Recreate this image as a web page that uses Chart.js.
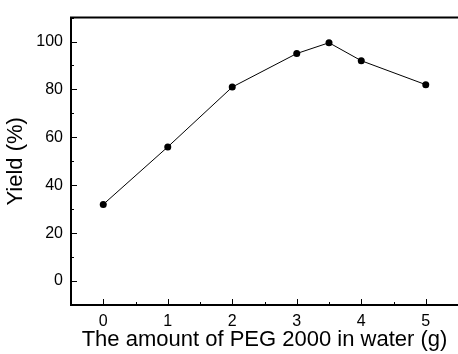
<!DOCTYPE html>
<html>
<head>
<meta charset="utf-8">
<script src="https://cdn.jsdelivr.net/npm/chart.js@4/dist/chart.umd.min.js"></script>
<style>
  html, body { margin: 0; padding: 0; background: #fff; overflow: hidden; }
  #wrap { width: 462px; height: 354px; }
</style>
</head>
<body>
<div id="wrap"><canvas id="yieldChart"></canvas></div>
<script>
// Data
const pegAmount = [0, 1, 2, 3, 3.5, 4, 5];
const yieldPct = [32, 56, 81, 95, 99.5, 92, 82];
const xTicks = [0, 1, 2, 3, 4, 5];
const yTicks = [0, 20, 40, 60, 80, 100];

const points = pegAmount.map((x, i) => ({ x: x, y: yieldPct[i] }));

// inward ticks + top frame line, like the Origin style plot
const framePlugin = {
    id: 'frame',
    afterDatasetsDraw(chart) {
        const { ctx, chartArea, scales } = chart;
        ctx.save();
        ctx.strokeStyle = '#000';
        ctx.lineWidth = 2;
        ctx.beginPath();
        ctx.moveTo(chartArea.left - 1, chartArea.top);
        ctx.lineTo(chartArea.right + 2, chartArea.top);
        ctx.stroke();

        ctx.lineWidth = 1;
        ctx.beginPath();
        for (let v = -0.5; v <= 5.5; v += 0.5) {
            const px = Math.round(scales.x.getPixelForValue(v)) + 0.5;
            const len = Number.isInteger(v) ? 6 : 3;
            ctx.moveTo(px, chartArea.bottom);
            ctx.lineTo(px, chartArea.bottom - len);
        }
        for (let v = -10; v <= 110; v += 10) {
            const py = Math.round(scales.y.getPixelForValue(v)) + 0.5;
            const len = v % 20 === 0 ? 6 : 3;
            ctx.moveTo(chartArea.left, py);
            ctx.lineTo(chartArea.left + len, py);
        }
        ctx.stroke();
        ctx.restore();
    }
};

const ctx = document.getElementById('yieldChart').getContext('2d');
new Chart(ctx, {
    type: 'scatter',
    data: {
        datasets: [{
            data: points,
            showLine: true,
            borderColor: '#000',
            borderWidth: 1,
            backgroundColor: '#000',
            pointRadius: 3.5,
            pointBorderWidth: 0
        }]
    },
    options: {
        responsive: true,
        maintainAspectRatio: false,
        animation: false,
        layout: { padding: { top: 14, right: 2, left: 0, bottom: 0 } },
        plugins: {
            legend: { display: false },
            tooltip: { enabled: false }
        },
        scales: {
            x: {
                type: 'linear',
                min: -0.5,
                max: 5.5,
                afterBuildTicks: (s) => { s.ticks = xTicks.map(v => ({ value: v })); },
                afterFit: (s) => { s.height = 49; },
                grid: { display: false, drawTicks: false },
                border: { display: true, color: '#000', width: 2 },
                ticks: { color: '#000', padding: 7, font: { family: 'Arial, "Liberation Sans"', size: 16 } },
                title: {
                    display: true,
                    text: 'The amount of PEG 2000 in water (g)',
                    color: '#000',
                    padding: { top: 1, bottom: 1 },
                    font: { family: 'Arial, "Liberation Sans"', size: 22 }
                }
            },
            y: {
                min: -10,
                max: 110,
                afterBuildTicks: (s) => { s.ticks = yTicks.map(v => ({ value: v })); },
                afterFit: (s) => { s.width = 71; },
                grid: { display: false, drawTicks: false },
                border: { display: true, color: '#000', width: 2 },
                ticks: { color: '#000', padding: 8, font: { family: 'Arial, "Liberation Sans"', size: 16 } },
                title: {
                    display: true,
                    text: 'Yield (%)',
                    color: '#000',
                    padding: { top: 3, bottom: 3 },
                    font: { family: 'Arial, "Liberation Sans"', size: 22 }
                }
            }
        }
    },
    plugins: [framePlugin]
});
</script>
</body>
</html>
